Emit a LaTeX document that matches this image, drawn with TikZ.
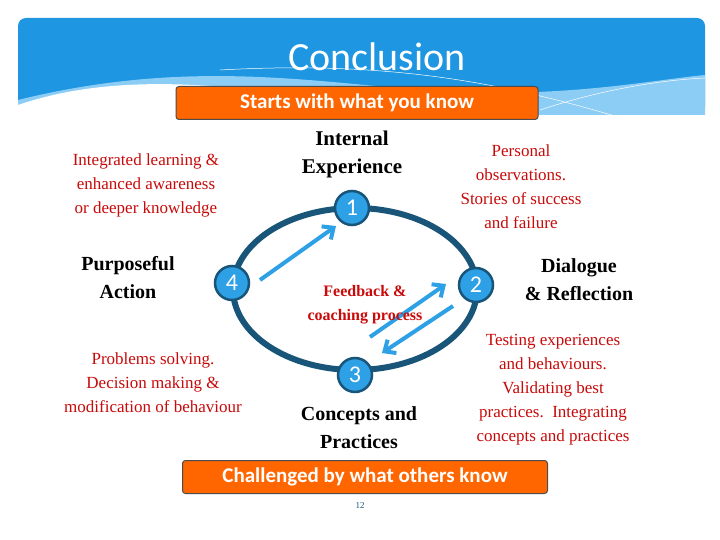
\documentclass[tikz,border=0pt]{standalone}
\usepackage{fontspec}
\setmainfont{Liberation Serif}
\newfontfamily\carl{Carlito}
\usetikzlibrary{arrows.meta}
\definecolor{rd}{RGB}{200,10,10}
\definecolor{sky}{RGB}{30,150,225}
\definecolor{lsky}{RGB}{140,205,245}
\definecolor{ring}{RGB}{25,85,120}
\definecolor{dot}{RGB}{45,160,230}
\definecolor{org}{RGB}{255,102,0}
\tikzset{
 red/.style={text=rd,align=center,font=\fontsize{17}{24}\selectfont},
 redb/.style={text=rd,align=center,font=\bfseries\fontsize{16}{24}\selectfont},
 blk/.style={align=center,font=\bfseries\fontsize{20}{28}\selectfont},
 num/.style={circle,fill=dot,draw=ring,line width=2.5pt,minimum size=34pt,inner sep=0pt,text=white,font=\carl\fontsize{24}{24}\selectfont},
 banner/.style={fill=org,draw=black!70,line width=1pt,rounded corners=3pt,text=white,font=\carl\bfseries\fontsize{21}{21}\selectfont,minimum height=33pt},
 arr/.style={draw=dot,line width=4pt,-{Straight Barb[length=9pt,width=16pt,line width=4pt]}}
}
\begin{document}
\begin{tikzpicture}[x=1pt,y=-1pt]
\useasboundingbox (0,0) rectangle (720,540);
\fill[white] (0,0) rectangle (720,540);
\fill[sky,rounded corners=8pt] (18,18) rectangle (705,115);
\fill[lsky] (18,115) -- (18,100) .. controls (180,60) and (300,80) .. (420,90) .. controls (560,100) and (650,80) .. (705,75) -- (705,115) -- cycle;
\fill[white] (18,125) -- (18,105) .. controls (150,60) and (300,100) .. (450,112) .. controls (560,120) and (650,116) .. (705,116) -- (705,125) -- cycle;
\draw[white,line width=0.5pt] (220,70) .. controls (400,60) and (520,85) .. (660,130);
\draw[white,line width=0.5pt] (540,110) .. controls (600,90) and (660,80) .. (705,78);
\node[text=white,font=\carl\fontsize{40}{40}\selectfont] (title) at (377,57) {Conclusion};
\node[banner,minimum width=362pt] (top) at (357,103) {Starts with what you know};
\node[banner,minimum width=365pt] (bot) at (365,477) {Challenged by what others know};
\draw[ring,line width=6pt] (355,289) ellipse (122 and 81);
\node[num] (n1) at (352,208) {1};
\node[num] (n2) at (476,285) {2};
\node[num] (n3) at (355,375) {3};
\node[num] (n4) at (232,283) {4};
\coordinate (a1) at (260,280); \coordinate (b1) at (336,226);
\coordinate (a2) at (370,337); \coordinate (b2) at (446,284);
\coordinate (a3) at (453,306); \coordinate (b3) at (382,353);
\draw[arr] (a1) -- (b1);
\draw[arr] (a2) -- (b2);
\draw[arr] (a3) -- (b3);
\node[blk,font=\bfseries\fontsize{21}{28}\selectfont] (ie) at (352,154) {Internal\\Experience};
\node[red] (il) at (146,185) {Integrated learning \&\\enhanced awareness\\or deeper knowledge};
\node[blk] (pa) at (128,278) {Purposeful\\Action};
\node[red] (ps) at (153,383) {Problems solving.\\Decision making \&\\modification of behaviour};
\node[red] (po) at (521,187) {Personal\\observations.\\Stories of success\\and failure};
\node[blk] (dr) at (579,280) {Dialogue\\\& Reflection};
\node[redb] (fb) at (365,305) {Feedback \&\\coaching process};
\node[red] (te) at (553,390) {Testing experiences\\and behaviours.\\Validating best\\practices.\ \ Integrating\\concepts and practices};
\node[blk] (cp) at (359,428) {Concepts and\\Practices};
\node[font=\fontsize{9}{9}\selectfont,text=ring] (pg) at (360,506) {12};
\end{tikzpicture}
\end{document}
